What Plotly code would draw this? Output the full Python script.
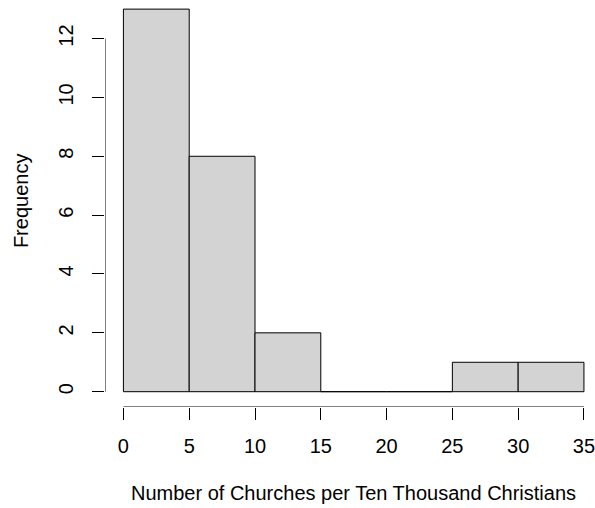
import plotly.graph_objects as go

# Histogram of churches per ten thousand Christians
bin_edges = [0, 5, 10, 15, 20, 25, 30, 35]
counts = [13, 8, 2, 0, 0, 1, 1]
x_ticks = [0, 5, 10, 15, 20, 25, 30, 35]
y_ticks = [0, 2, 4, 6, 8, 10, 12]
x_title = "Number of Churches per Ten Thousand Christians"
y_title = "Frequency"

FONT = "Liberation Sans, Arial, sans-serif"
FS = 20
fig = go.Figure()

# each bin drawn as a closed outline so empty bins still show a base line
for lo, hi, c in zip(bin_edges[:-1], bin_edges[1:], counts):
    fig.add_trace(go.Scatter(
        x=[lo, lo, hi, hi, lo], y=[0, c, c, 0, 0],
        mode="lines", fill="toself", fillcolor="#D3D3D3",
        line=dict(color="black", width=1), hoverinfo="skip", showlegend=False,
    ))

xr = [-1.4, 35.84]
yr = [-0.52, 13.31]

# base-graphics style axis lines spanning only the tick range
fig.add_shape(type="line", xref="x", yref="y", x0=xr[0], x1=xr[0],
              y0=y_ticks[0], y1=y_ticks[-1], line=dict(color="black", width=1))
fig.add_shape(type="line", xref="x", yref="y", x0=x_ticks[0], x1=x_ticks[-1],
              y0=yr[0], y1=yr[0], line=dict(color="black", width=1))

fig.add_annotation(text=x_title, xref="x", yref="paper", x=17.5, y=-0.212,
                   showarrow=False, font=dict(family=FONT, size=FS, color="black"),
                   yanchor="middle")
fig.add_annotation(text=y_title, xref="paper", yref="y", x=-0.170, y=6.5,
                   showarrow=False, textangle=-90,
                   font=dict(family=FONT, size=FS, color="black"), xanchor="center")

fig.update_layout(
    width=595, height=508,
    margin=dict(l=104.6, r=0, t=0, b=100.7, pad=0),
    paper_bgcolor="white", plot_bgcolor="white",
    font=dict(family=FONT, size=FS, color="black"),
    xaxis=dict(range=xr, tickvals=x_ticks, ticks="outside", ticklen=12,
               tickcolor="black", showgrid=False, zeroline=False, showline=False,
               ticklabelstandoff=9, ticklabeloverflow="allow",
               tickfont=dict(size=FS)),
    yaxis=dict(range=yr, tickvals=y_ticks, ticks="outside", ticklen=12,
               tickcolor="black", showgrid=False, zeroline=False, showline=False,
               tickangle=-90, ticklabelstandoff=11, ticklabeloverflow="allow",
               tickfont=dict(size=FS)),
)

fig.write_html("out.html")
